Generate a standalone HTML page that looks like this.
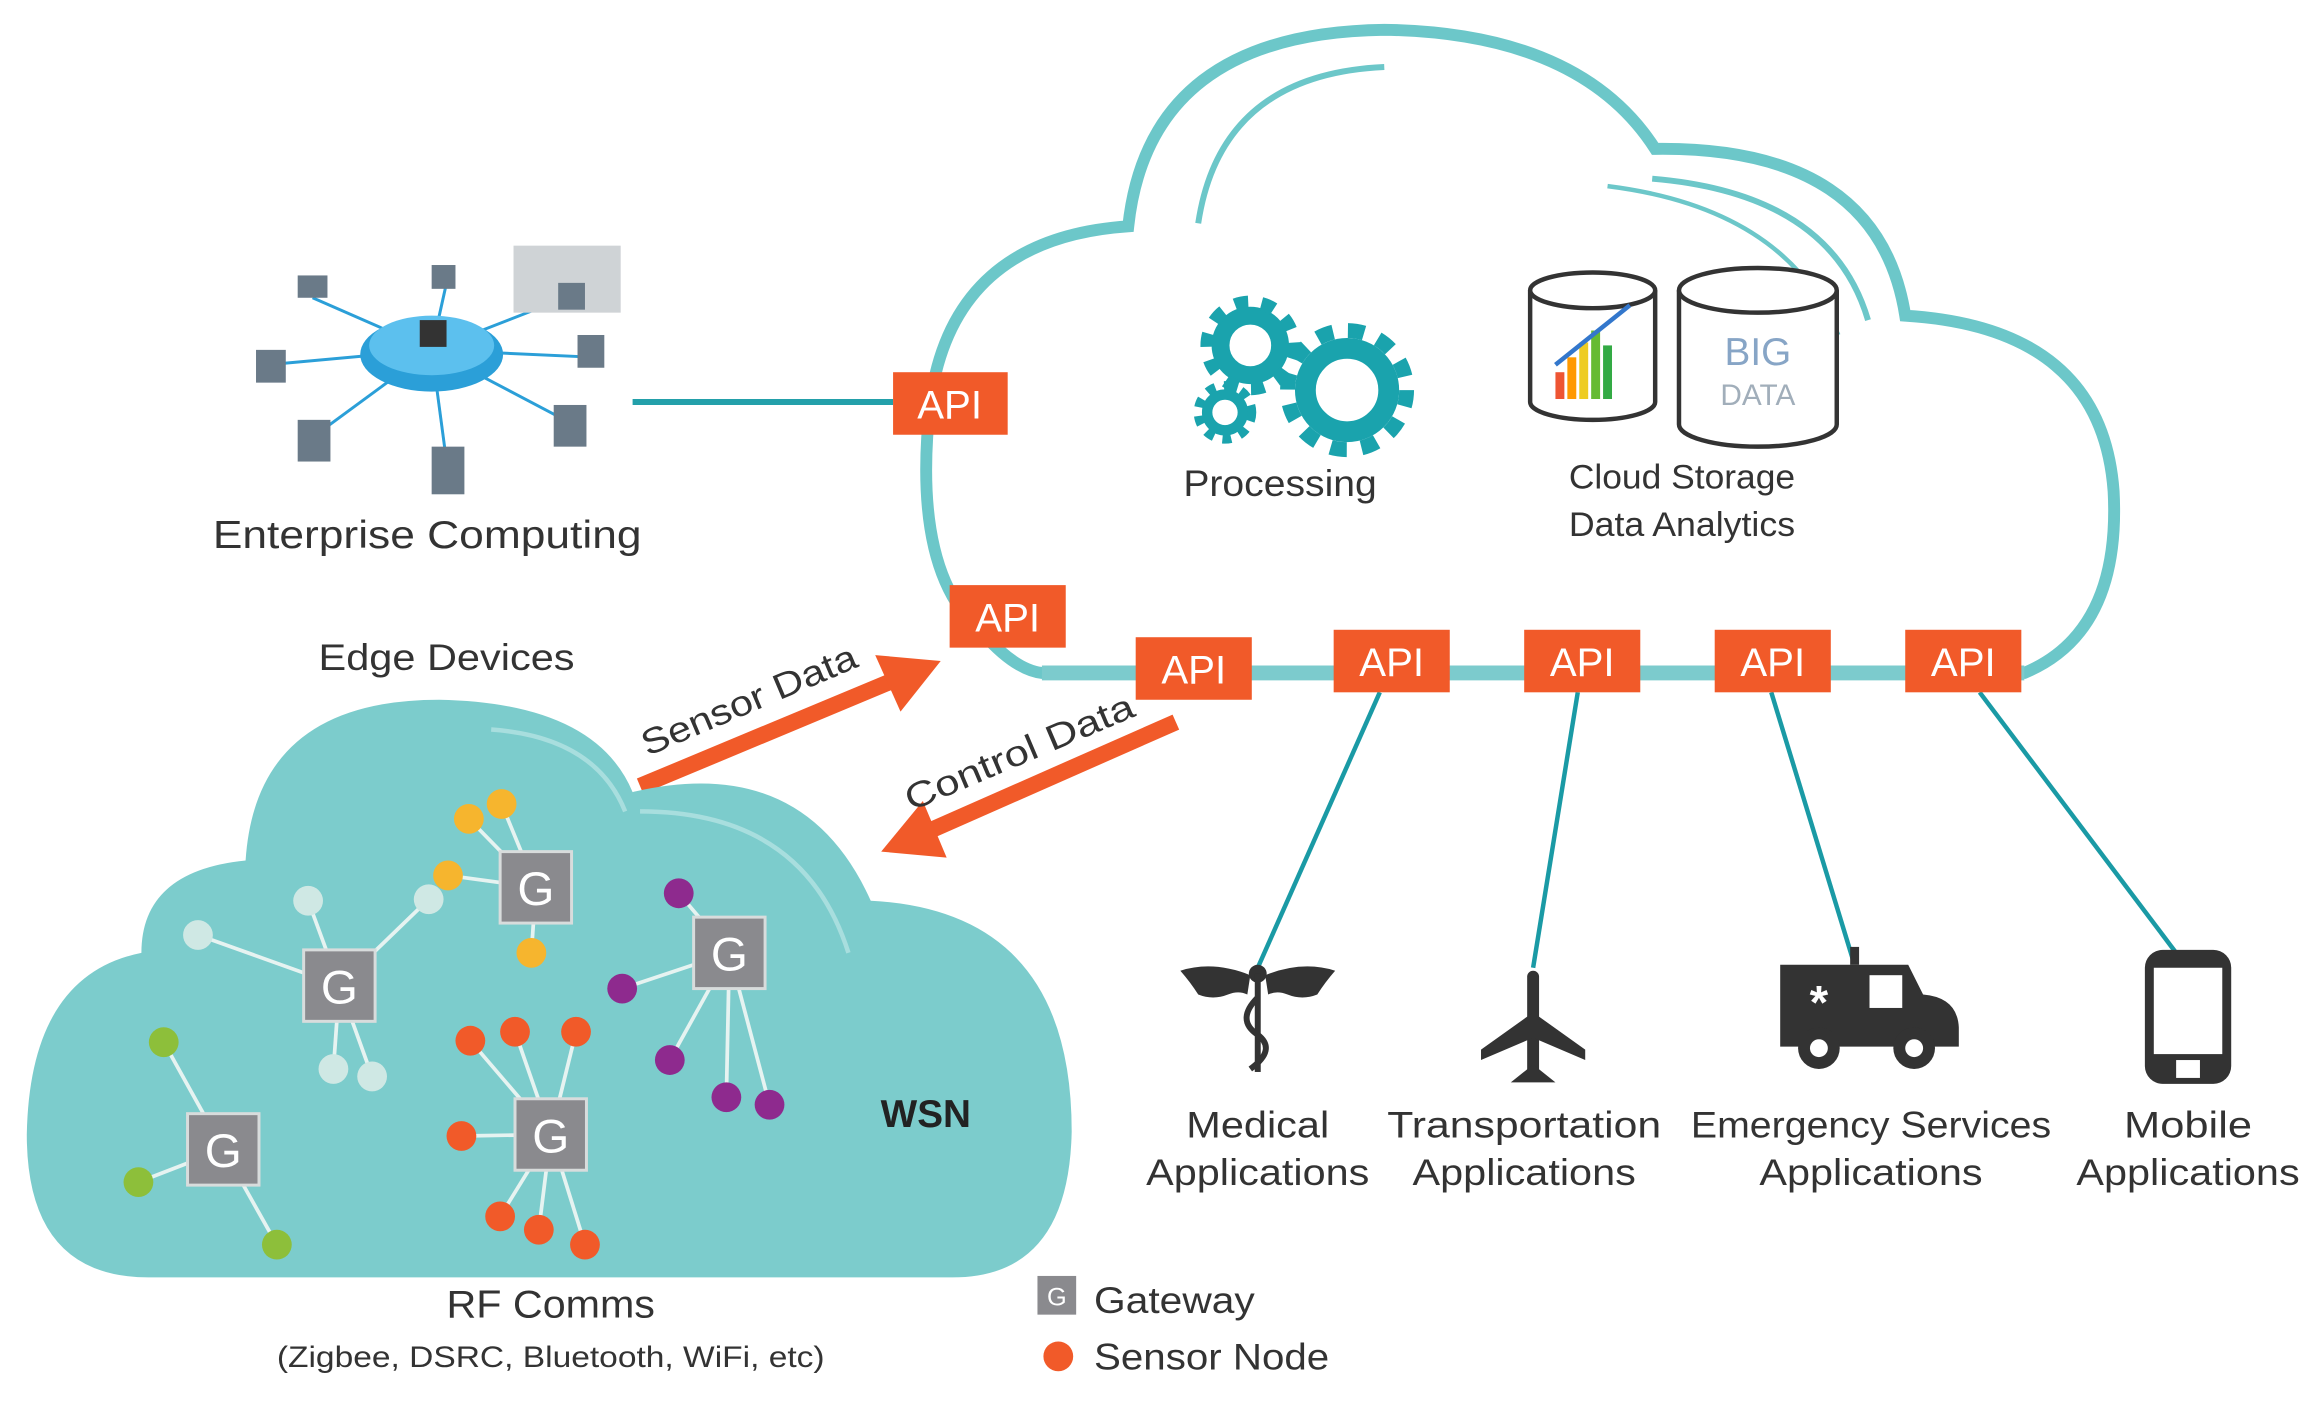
<!DOCTYPE html>
<html><head><meta charset="utf-8"><style>html,body{margin:0;padding:0;background:#fff}svg{display:block}text{font-family:"Liberation Sans",sans-serif}</style></head>
<body>
<svg width="2322" height="1401" viewBox="0 0 1560 941" preserveAspectRatio="none" xmlns="http://www.w3.org/2000/svg">
<rect width="1560" height="941" fill="#fff"/>
<!-- big cloud -->
<path d="M700 452 L1360 452 Q1425 425 1420 330 Q1412 220 1280 212 Q1262 98 1112 100 Q1062 22 930 20 Q772 22 758 152 Q640 160 625 270 Q612 385 660 425 Q682 450 700 452 Z" fill="#fff" stroke="#6cc7c9" stroke-width="8"/>
<path d="M805 150 Q820 50 930 45" fill="none" stroke="#6cc7c9" stroke-width="4"/>
<path d="M1110 120 Q1230 130 1255 215" fill="none" stroke="#6cc7c9" stroke-width="4"/>
<path d="M1080 125 Q1200 140 1235 225" fill="none" stroke="#6cc7c9" stroke-width="3"/>
<line x1="700" y1="452" x2="1360" y2="452" stroke="#7ccbcd" stroke-width="10"/>
<!-- enterprise computing -->
<g stroke="#2b9fd8" stroke-width="2">
<line x1="290" y1="235" x2="210" y2="200"/><line x1="290" y1="235" x2="300" y2="190"/><line x1="290" y1="235" x2="380" y2="200"/><line x1="290" y1="235" x2="400" y2="240"/><line x1="290" y1="235" x2="385" y2="285"/><line x1="290" y1="235" x2="300" y2="310"/><line x1="290" y1="235" x2="215" y2="290"/><line x1="290" y1="235" x2="180" y2="245"/>
</g>
<ellipse cx="290" cy="238" rx="48" ry="25" fill="#2b9fd8"/>
<ellipse cx="290" cy="232" rx="42" ry="20" fill="#5cc0ee"/>
<rect x="282" y="215" width="18" height="18" fill="#333"/>
<g fill="#6a7a88">
<rect x="345" y="165" width="72" height="45" fill="#cfd3d6"/>
<rect x="200" y="185" width="20" height="15"/><rect x="290" y="178" width="16" height="16"/><rect x="388" y="225" width="18" height="22"/><rect x="372" y="272" width="22" height="28"/><rect x="290" y="300" width="22" height="32"/><rect x="200" y="282" width="22" height="28"/><rect x="172" y="235" width="20" height="22"/><rect x="375" y="190" width="18" height="18"/>
</g>
<text x="287" y="368" font-size="26" text-anchor="middle" fill="#333" textLength="288" lengthAdjust="spacingAndGlyphs">Enterprise Computing</text>
<line x1="425" y1="270" x2="600" y2="270" stroke="#23a0aa" stroke-width="4"/>
<!-- gears -->
<g fill="none" stroke="#1aa3ad">
<circle cx="840" cy="232" r="20" stroke-width="12"/><circle cx="840" cy="232" r="29" stroke-width="9" stroke-dasharray="9 9"/>
<circle cx="905" cy="262" r="28" stroke-width="14"/><circle cx="905" cy="262" r="40" stroke-width="10" stroke-dasharray="11 10"/>
<circle cx="823" cy="277" r="12" stroke-width="7"/><circle cx="823" cy="277" r="18" stroke-width="6" stroke-dasharray="6 6"/>
</g>
<text x="860" y="333" font-size="25" text-anchor="middle" fill="#333" textLength="130" lengthAdjust="spacingAndGlyphs">Processing</text>
<!-- cylinders -->
<g fill="#fff" stroke="#333" stroke-width="3">
<path d="M1028 195 L1028 270 A42 12 0 0 0 1112 270 L1112 195"/><ellipse cx="1070" cy="195" rx="42" ry="12"/>
<path d="M1128 195 L1128 285 A53 15 0 0 0 1234 285 L1234 195"/><ellipse cx="1181" cy="195" rx="53" ry="15"/>
</g>
<g><rect x="1045" y="250" width="6" height="18" fill="#e53"/><rect x="1053" y="240" width="6" height="28" fill="#f90"/><rect x="1061" y="230" width="6" height="38" fill="#ec2"/><rect x="1069" y="222" width="6" height="46" fill="#6b3"/><rect x="1077" y="232" width="6" height="36" fill="#3a4"/><line x1="1045" y1="245" x2="1095" y2="205" stroke="#37c" stroke-width="3"/></g>
<text x="1181" y="245" font-size="26" text-anchor="middle" fill="#6a8fb8" opacity="0.8">BIG</text>
<text x="1181" y="272" font-size="20" text-anchor="middle" fill="#8a9aaa" opacity="0.8">DATA</text>
<text x="1130" y="328" font-size="23" text-anchor="middle" fill="#333" textLength="152" lengthAdjust="spacingAndGlyphs">Cloud Storage</text>
<text x="1130" y="360" font-size="23" text-anchor="middle" fill="#333" textLength="152" lengthAdjust="spacingAndGlyphs">Data Analytics</text>
<!-- app lines -->
<g stroke="#1a9aa5" stroke-width="3">
<line x1="927" y1="465" x2="845" y2="650"/><line x1="1060" y1="465" x2="1030" y2="650"/><line x1="1190" y1="465" x2="1245" y2="645"/><line x1="1330" y1="465" x2="1462" y2="640"/>
</g>
<!-- API boxes -->
<g fill="#f15a29">
<rect x="600" y="250" width="77" height="42"/><rect x="638" y="393" width="78" height="42"/><rect x="763" y="428" width="78" height="42"/><rect x="896" y="423" width="78" height="42"/><rect x="1024" y="423" width="78" height="42"/><rect x="1152" y="423" width="78" height="42"/><rect x="1280" y="423" width="78" height="42"/>
</g>
<g fill="#fff" font-size="27" text-anchor="middle">
<text x="638" y="281">API</text><text x="677" y="424">API</text><text x="802" y="459">API</text><text x="935" y="454">API</text><text x="1063" y="454">API</text><text x="1191" y="454">API</text><text x="1319" y="454">API</text>
</g>
<text x="300" y="450" font-size="25" text-anchor="middle" fill="#333" textLength="172" lengthAdjust="spacingAndGlyphs">Edge Devices</text>
<!-- arrows -->
<line x1="430" y1="528" x2="605" y2="455" stroke="#f15a29" stroke-width="11"/>
<polygon points="632,444 588,440 605,478" fill="#f15a29"/>
<text transform="translate(435,508) rotate(-23)" font-size="24" fill="#333" textLength="155" lengthAdjust="spacingAndGlyphs">Sensor Data</text>
<line x1="790" y1="485" x2="620" y2="560" stroke="#f15a29" stroke-width="11"/>
<polygon points="592,572 636,576 620,538" fill="#f15a29"/>
<text transform="translate(612,545) rotate(-23)" font-size="24" fill="#333" textLength="165" lengthAdjust="spacingAndGlyphs">Control Data</text>
<!-- WSN cloud -->
<path d="M100 858 Q18 858 18 762 Q20 655 95 640 Q95 585 165 578 Q172 470 295 470 Q400 472 425 532 Q540 505 585 605 Q720 612 720 760 Q718 858 640 858 Z" fill="#7ccccc"/>
<path d="M330 490 Q400 495 420 545" fill="none" stroke="#a8dede" stroke-width="3"/>
<path d="M430 545 Q540 545 570 640" fill="none" stroke="#a8dede" stroke-width="3"/>
<text x="622" y="757" font-size="26" font-weight="bold" text-anchor="middle" fill="#222">WSN</text>
<!-- links -->
<g stroke="#e6f3f1" stroke-width="2.5">
<line x1="228" y1="662" x2="133" y2="628"/><line x1="228" y1="662" x2="207" y2="605"/><line x1="228" y1="662" x2="288" y2="604"/><line x1="228" y1="662" x2="224" y2="718"/><line x1="228" y1="662" x2="250" y2="723"/>
<line x1="360" y1="596" x2="315" y2="550"/><line x1="360" y1="596" x2="337" y2="540"/><line x1="360" y1="596" x2="301" y2="588"/><line x1="360" y1="596" x2="357" y2="640"/>
<line x1="490" y1="640" x2="456" y2="600"/><line x1="490" y1="640" x2="418" y2="664"/><line x1="490" y1="640" x2="450" y2="712"/><line x1="490" y1="640" x2="488" y2="737"/><line x1="490" y1="640" x2="517" y2="742"/>
<line x1="150" y1="772" x2="110" y2="700"/><line x1="150" y1="772" x2="93" y2="794"/><line x1="150" y1="772" x2="186" y2="836"/>
<line x1="370" y1="762" x2="316" y2="699"/><line x1="370" y1="762" x2="346" y2="693"/><line x1="370" y1="762" x2="387" y2="693"/><line x1="370" y1="762" x2="310" y2="763"/><line x1="370" y1="762" x2="336" y2="817"/><line x1="370" y1="762" x2="362" y2="826"/><line x1="370" y1="762" x2="393" y2="836"/>
</g>
<g fill="#cfe8e4"><circle cx="133" cy="628" r="10"/><circle cx="207" cy="605" r="10"/><circle cx="288" cy="604" r="10"/><circle cx="224" cy="718" r="10"/><circle cx="250" cy="723" r="10"/></g>
<g fill="#f6b52e"><circle cx="315" cy="550" r="10"/><circle cx="337" cy="540" r="10"/><circle cx="301" cy="588" r="10"/><circle cx="357" cy="640" r="10"/></g>
<g fill="#8e2a8e"><circle cx="456" cy="600" r="10"/><circle cx="418" cy="664" r="10"/><circle cx="450" cy="712" r="10"/><circle cx="488" cy="737" r="10"/><circle cx="517" cy="742" r="10"/></g>
<g fill="#8dbf3a"><circle cx="110" cy="700" r="10"/><circle cx="93" cy="794" r="10"/><circle cx="186" cy="836" r="10"/></g>
<g fill="#f15a29"><circle cx="316" cy="699" r="10"/><circle cx="346" cy="693" r="10"/><circle cx="387" cy="693" r="10"/><circle cx="310" cy="763" r="10"/><circle cx="336" cy="817" r="10"/><circle cx="362" cy="826" r="10"/><circle cx="393" cy="836" r="10"/></g>
<g fill="#8a8a8e" stroke="#d8dcdc" stroke-width="2">
<rect x="204" y="638" width="48" height="48"/><rect x="336" y="572" width="48" height="48"/><rect x="466" y="616" width="48" height="48"/><rect x="126" y="748" width="48" height="48"/><rect x="346" y="738" width="48" height="48"/>
</g>
<g fill="#fff" font-size="32" text-anchor="middle">
<text x="228" y="674">G</text><text x="360" y="608">G</text><text x="490" y="652">G</text><text x="150" y="784">G</text><text x="370" y="774">G</text>
</g>
<text x="370" y="885" font-size="26" text-anchor="middle" fill="#333" textLength="140" lengthAdjust="spacingAndGlyphs">RF Comms</text>
<text x="370" y="918" font-size="20" text-anchor="middle" fill="#333" textLength="368" lengthAdjust="spacingAndGlyphs">(Zigbee, DSRC, Bluetooth, WiFi, etc)</text>
<!-- legend -->
<rect x="697" y="857" width="26" height="26" fill="#8a8a8e"/><text x="710" y="877" font-size="17" fill="#fff" text-anchor="middle">G</text>
<text x="735" y="882" font-size="25" fill="#333" textLength="108" lengthAdjust="spacingAndGlyphs">Gateway</text>
<circle cx="711" cy="911" r="10" fill="#f15a29"/>
<text x="735" y="920" font-size="25" fill="#333" textLength="158" lengthAdjust="spacingAndGlyphs">Sensor Node</text>
<!-- icons -->
<g fill="#333">
<!-- caduceus -->
<path d="M840 655 Q815 645 793 652 Q800 660 805 668 Q815 672 825 668 Q832 665 838 668 Z"/>
<path d="M850 655 Q875 645 897 652 Q890 660 885 668 Q875 672 865 668 Q858 665 852 668 Z"/>
<circle cx="845" cy="654" r="6"/>
<rect x="843" y="654" width="4" height="66"/>
<path d="M845 670 Q830 685 845 695 Q858 705 840 718" fill="none" stroke="#333" stroke-width="4"/>
<!-- plane -->
<rect x="1026" y="652" width="8" height="72" rx="4"/>
<polygon points="1030,680 995,705 995,712 1030,697 1065,712 1065,705"/>
<polygon points="1030,715 1015,727 1045,727"/>
<!-- ambulance -->
<rect x="1243" y="636" width="6" height="12"/>
<path d="M1196 648 L1282 648 L1292 668 Q1315 670 1316 690 L1316 703 L1196 703 Z"/>
<rect x="1256" y="655" width="22" height="22" fill="#fff"/>
<circle cx="1222" cy="704" r="14"/><circle cx="1222" cy="704" r="6" fill="#fff"/>
<circle cx="1286" cy="704" r="14"/><circle cx="1286" cy="704" r="6" fill="#fff"/>
<text x="1222" y="684" font-size="32" fill="#fff" text-anchor="middle" font-weight="bold">*</text>
<!-- phone -->
<rect x="1441" y="638" width="58" height="90" rx="12"/>
<rect x="1447" y="650" width="46" height="58" fill="#fff"/>
<rect x="1462" y="712" width="16" height="12" fill="#fff"/>
</g>
<!-- app labels -->
<g font-size="25" fill="#333" text-anchor="middle">
<text x="845" y="764" textLength="96" lengthAdjust="spacingAndGlyphs">Medical</text>
<text x="845" y="796" textLength="150" lengthAdjust="spacingAndGlyphs">Applications</text>
<text x="1024" y="764" textLength="184" lengthAdjust="spacingAndGlyphs">Transportation</text>
<text x="1024" y="796" textLength="150" lengthAdjust="spacingAndGlyphs">Applications</text>
<text x="1257" y="764" textLength="242" lengthAdjust="spacingAndGlyphs">Emergency Services</text>
<text x="1257" y="796" textLength="150" lengthAdjust="spacingAndGlyphs">Applications</text>
<text x="1470" y="764" textLength="86" lengthAdjust="spacingAndGlyphs">Mobile</text>
<text x="1470" y="796" textLength="150" lengthAdjust="spacingAndGlyphs">Applications</text>
</g>
</svg>
</body></html>
